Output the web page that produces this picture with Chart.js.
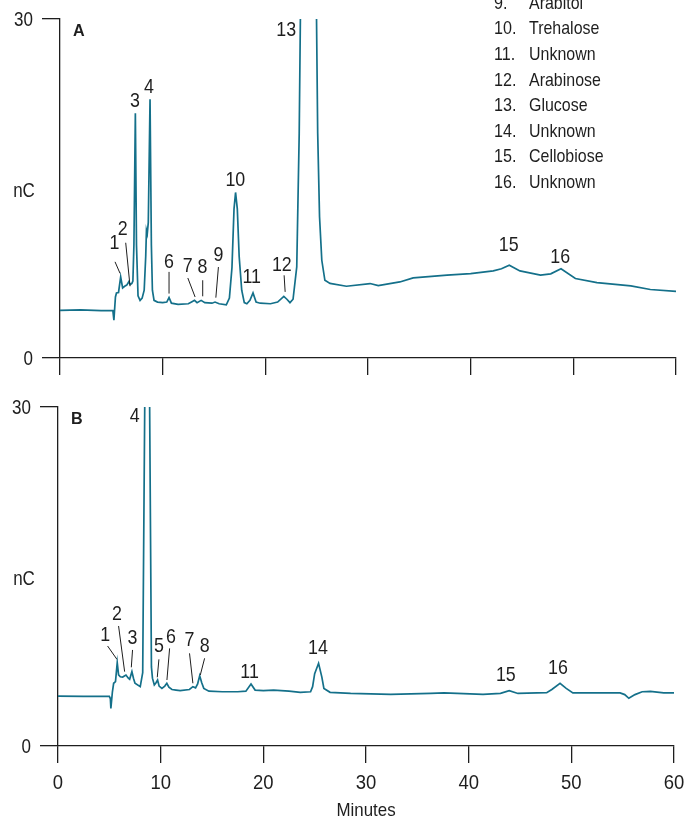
<!DOCTYPE html>
<html>
<head>
<meta charset="utf-8">
<title>Carbohydrate chromatograms</title>
<script src="https://cdn.jsdelivr.net/npm/chart.js@4.4.1/dist/chart.umd.min.js"></script>
<style>
  html, body { margin: 0; padding: 0; background: #ffffff; }
  #wrap { position: relative; width: 686px; height: 817px; overflow: hidden; }
  canvas { position: absolute; left: 0; }
  #panelA { top: 0; }
  #panelB { top: 390px; }
</style>
</head>
<body>
<div id="wrap">
  <canvas id="panelA" width="686" height="390"></canvas>
  <canvas id="panelB" width="686" height="427"></canvas>
</div>
<script>
// ---- Trace A (retention time in minutes, detector response in nC) ----
const minutesA = [
  0.0, 2.0, 4.0, 5.15, 5.25, 5.4, 5.5, 5.7, 5.91, 6.1, 6.3, 6.5, 6.7, 6.85, 7.0,
  7.1, 7.2, 7.34, 7.45, 7.6, 7.8, 8.0, 8.2, 8.35, 8.42, 8.5, 8.6, 8.77, 8.9, 9.0, 9.16,
  9.5, 10.0, 10.4, 10.62, 10.85, 11.5, 12.5, 12.9, 13.1, 13.35, 13.75, 14.1, 14.8,
  15.1, 15.5, 16.2, 16.5, 16.75, 16.95, 17.1, 17.27, 17.45, 17.7, 17.95, 18.2,
  18.5, 18.8, 19.1, 19.5, 20.5, 21.2, 21.8, 22.1, 22.4, 22.7, 23.06, 23.3, 24.2,
  25.1, 25.28, 25.5, 25.8, 26.3, 27.9, 30.2, 31.0, 33.1, 34.4, 37.7, 40.0, 42.2,
  43.0, 43.76, 44.8, 46.8, 47.8, 48.8, 50.2, 52.3, 55.6, 57.5, 60.0
];
const signalA = [
  4.22, 4.25, 4.2, 4.2, 3.35, 5.4, 5.75, 5.8, 7.17, 6.2, 6.35, 6.45, 6.75, 6.5, 6.6,
  6.8, 10.0, 21.65, 10.0, 5.5, 5.1, 5.3, 6.0, 9.0, 11.3, 11.0, 12.0, 22.9, 10.0, 6.0, 5.1,
  4.95, 4.9, 4.95, 5.35, 4.85, 4.75, 4.8, 5.0, 5.1, 4.9, 5.1, 4.9, 4.85,
  4.95, 4.8, 4.7, 5.3, 8.0, 13.2, 14.65, 13.2, 9.0, 6.0, 4.9, 4.8,
  5.1, 5.76, 4.95, 4.85, 4.8, 4.95, 5.45, 5.2, 4.9, 5.2, 8.06, 19.9, 100.0,
  19.9, 12.5, 8.65, 6.88, 6.6, 6.35, 6.59, 6.4, 6.73, 7.09, 7.33, 7.47, 7.71,
  7.9, 8.21, 7.71, 7.33, 7.45, 7.89, 7.03, 6.67, 6.38, 6.06, 5.9
];

// ---- Trace B ----
const minutesB = [
  0.0, 2.5, 5.0, 5.1, 5.15, 5.3, 5.42, 5.6, 5.77, 5.9, 6.07, 6.3, 6.62, 6.85, 6.98,
  7.2, 7.35, 7.5, 8.01, 8.25, 8.7, 9.1, 9.2, 9.38, 9.55, 9.7, 9.85, 10.12, 10.4,
  10.6, 10.8, 11.1, 11.5, 11.9, 12.8, 13.14, 13.4, 13.6, 13.8, 14.0, 14.2, 14.7,
  16.0, 17.5, 18.3, 18.8, 19.2, 20.0, 21.0, 22.5, 23.6, 24.6, 24.8, 25.0, 25.38,
  25.7, 25.9, 26.5, 28.5, 32.4, 36.3, 37.6, 41.4, 43.1, 43.95, 44.8, 47.6, 48.1,
  48.9, 49.5, 50.15, 54.75, 55.2, 55.6, 56.2, 56.9, 57.7, 59.0, 60.0
];
const signalB = [
  4.42, 4.4, 4.4, 4.2, 3.33, 4.8, 5.55, 5.7, 7.37, 6.3, 6.13, 6.1, 6.28, 6.0, 5.9,
  6.58, 6.0, 5.55, 5.25, 6.5, 60.0, 7.0, 6.0, 5.4, 5.6, 5.84, 5.3, 5.1, 5.3,
  5.55, 5.2, 5.0, 4.95, 4.9, 5.0, 5.25, 5.15, 5.5, 6.22, 5.6, 5.1, 4.85,
  4.8, 4.8, 4.85, 5.48, 4.95, 4.9, 4.95, 4.85, 4.74, 4.8, 5.25, 6.4, 7.32,
  6.1, 5.1, 4.75, 4.65, 4.57, 4.66, 4.7, 4.57, 4.66, 4.9, 4.65, 4.72, 5.0,
  5.55, 5.1, 4.7, 4.7, 4.55, 4.22, 4.55, 4.8, 4.84, 4.7, 4.7
];

// ---- Axis ranges / tick values ----
const timeTicks = [0, 10, 20, 30, 40, 50, 60];
const responseTicks = [0, 30];

// ---- Peak identification list (numbers 9-16) ----
const peakNumbers = ['9.', '10.', '11.', '12.', '13.', '14.', '15.', '16.'];
const peakNames = ['Arabitol', 'Trehalose', 'Unknown', 'Arabinose', 'Glucose', 'Unknown', 'Cellobiose', 'Unknown'];

// ---- Peak tags: number, label centre (min, nC), optional leader line ----
const tagsA = [
  { n: '1',  x: 5.3,   y: 10.2,  lead: [5.36, 8.51, 5.85, 7.49] },
  { n: '2',  x: 6.12,  y: 11.37, lead: [6.4, 10.2, 6.82, 6.35] },
  { n: '3',  x: 7.31,  y: 22.7 },
  { n: '4',  x: 8.67,  y: 23.95 },
  { n: '6',  x: 10.62, y: 8.44,  lead: [10.62, 7.62, 10.62, 5.7] },
  { n: '7',  x: 12.45, y: 8.15,  lead: [12.45, 7.08, 13.16, 5.4] },
  { n: '8',  x: 13.88, y: 8.06,  lead: [13.9, 6.88, 13.9, 5.46] },
  { n: '9',  x: 15.43, y: 9.1,   lead: [15.43, 8.05, 15.18, 5.34] },
  { n: '10', x: 17.08, y: 15.74 },
  { n: '11', x: 18.68, y: 7.17 },
  { n: '12', x: 21.61, y: 8.21,  lead: [21.83, 7.32, 21.93, 5.85] },
  { n: '13', x: 22.03, y: 29.02 },
  { n: '15', x: 43.7,  y: 9.98 },
  { n: '16', x: 48.73, y: 8.95 }
];
const tagsB = [
  { n: '1',  x: 4.61,  y: 9.82,  lead: [4.83, 8.85, 5.74, 7.67] },
  { n: '2',  x: 5.74,  y: 11.68, lead: [5.9, 10.62, 6.49, 6.58] },
  { n: '3',  x: 7.26,  y: 9.53,  lead: [7.26, 8.5, 7.14, 6.96] },
  { n: '4',  x: 7.46,  y: 29.2 },
  { n: '5',  x: 9.83,  y: 8.79,  lead: [9.83, 7.67, 9.67, 6.08] },
  { n: '6',  x: 11.0,  y: 9.67,  lead: [10.87, 8.64, 10.61, 5.84] },
  { n: '7',  x: 12.81, y: 9.38,  lead: [12.81, 8.2, 13.14, 5.55] },
  { n: '8',  x: 14.28, y: 8.85,  lead: [14.28, 7.76, 13.86, 6.28] },
  { n: '11', x: 18.66, y: 6.49 },
  { n: '14', x: 25.32, y: 8.65 },
  { n: '15', x: 43.62, y: 6.28 },
  { n: '16', x: 48.69, y: 6.87 }
];

// ---- Styling ----
const TRACE = '#14708a';
const INK = '#1e1e1e';
const FACE = "'Liberation Sans', Arial, sans-serif";
const NARROW = 0.85;   // horizontal squeeze giving a condensed sans look

// Text drawn with a horizontal squeeze around its anchor point.
function squeezedText(ctx, str, x, y, align, baseline, font, sx) {
  ctx.save();
  ctx.font = font;
  ctx.textAlign = align;
  ctx.textBaseline = baseline;
  ctx.translate(x, y);
  ctx.scale(sx, 1);
  ctx.fillText(str, 0, 0);
  ctx.restore();
}

function toPoints(xs, ys) {
  return xs.map((t, i) => ({ x: t, y: ys[i] }));
}

// Draws tick labels, peak numbers with their leader lines, the panel letter,
// the nC unit, the time axis title and (upper panel) the list of peak names.
const peakTags = {
  id: 'peakTags',
  afterDatasetsDraw(chart, args, opts) {
    const { ctx, chartArea, scales: { x, y } } = chart;
    ctx.save();
    ctx.strokeStyle = INK;
    ctx.fillStyle = INK;
    ctx.lineWidth = 1;

    // response axis tick labels
    for (const v of responseTicks) {
      squeezedText(ctx, String(v), chartArea.left - 27, y.getPixelForValue(v) + 1,
        'right', 'middle', '20px ' + FACE, NARROW);
    }
    // time axis tick labels
    if (opts.timeLabels) {
      for (const v of timeTicks) {
        squeezedText(ctx, String(v), x.getPixelForValue(v), chartArea.bottom + 37,
          'center', 'middle', '21px ' + FACE, 0.88);
      }
    }

    // peak numbers
    for (const tag of opts.tags) {
      if (tag.lead) {
        ctx.beginPath();
        ctx.moveTo(x.getPixelForValue(tag.lead[0]), y.getPixelForValue(tag.lead[1]));
        ctx.lineTo(x.getPixelForValue(tag.lead[2]), y.getPixelForValue(tag.lead[3]));
        ctx.stroke();
      }
      squeezedText(ctx, tag.n, x.getPixelForValue(tag.x), y.getPixelForValue(tag.y),
        'center', 'middle', '21px ' + FACE, NARROW);
    }

    // panel letter
    squeezedText(ctx, opts.letter, chartArea.left + 13, chartArea.top + 12,
      'left', 'middle', 'bold 17px ' + FACE, 0.95);

    // unit on the response axis
    squeezedText(ctx, 'nC', 24, (chartArea.top + chartArea.bottom) / 2 + 3,
      'center', 'middle', '20px ' + FACE, NARROW);

    if (opts.names) {
      peakNumbers.forEach((num, i) => {
        const base = 8.7 + i * 25.6;
        squeezedText(ctx, num, 494, base, 'left', 'alphabetic', '19px ' + FACE, NARROW);
        squeezedText(ctx, peakNames[i], 529, base, 'left', 'alphabetic', '19px ' + FACE, 0.84);
      });
    }
    if (opts.title) {
      squeezedText(ctx, opts.title, (chartArea.left + chartArea.right) / 2, chart.height - 1,
        'center', 'alphabetic', '19px ' + FACE, 0.89);
    }
    ctx.restore();
  }
};

function buildPanel(canvasId, xs, ys, cfg) {
  return new Chart(document.getElementById(canvasId), {
    type: 'line',
    data: {
      datasets: [{
        data: toPoints(xs, ys),
        borderColor: TRACE,
        borderWidth: 1.7,
        pointRadius: 0,
        tension: 0,
        fill: false
      }]
    },
    options: {
      responsive: false,
      animation: false,
      events: [],
      layout: { padding: { left: 0, right: cfg.right, top: cfg.top, bottom: 0 } },
      plugins: {
        legend: { display: false },
        tooltip: { enabled: false },
        peakTags: { tags: cfg.tags, letter: cfg.letter, names: cfg.names, title: cfg.title, timeLabels: cfg.timeLabels }
      },
      scales: {
        x: {
          type: 'linear',
          min: timeTicks[0],
          max: timeTicks[timeTicks.length - 1],
          afterBuildTicks(scale) { scale.ticks = timeTicks.map(v => ({ value: v })); },
          ticks: { display: false },
          grid: { drawOnChartArea: false, drawTicks: true, tickLength: 17, color: INK, lineWidth: 1.3 },
          border: { display: true, color: INK, width: 1.3 },
          afterFit(scale) { scale.height = cfg.xHeight; }
        },
        y: {
          min: responseTicks[0],
          max: responseTicks[responseTicks.length - 1],
          afterBuildTicks(scale) { scale.ticks = responseTicks.map(v => ({ value: v })); },
          ticks: { display: false },
          grid: { drawOnChartArea: false, drawTicks: true, tickLength: 18, color: INK, lineWidth: 1.3 },
          border: { display: true, color: INK, width: 1.3 },
          afterFit(scale) { scale.width = cfg.yWidth; }
        }
      }
    },
    plugins: [peakTags]
  });
}

buildPanel('panelA', minutesA, signalA, {
  tags: tagsA, letter: 'A', names: true, title: null, timeLabels: false,
  top: 19, right: 10, xHeight: 32, yWidth: 60
});
buildPanel('panelB', minutesB, signalB, {
  tags: tagsB, letter: 'B', names: false, title: 'Minutes', timeLabels: true,
  top: 17, right: 12, xHeight: 71, yWidth: 58
});
</script>
</body>
</html>
